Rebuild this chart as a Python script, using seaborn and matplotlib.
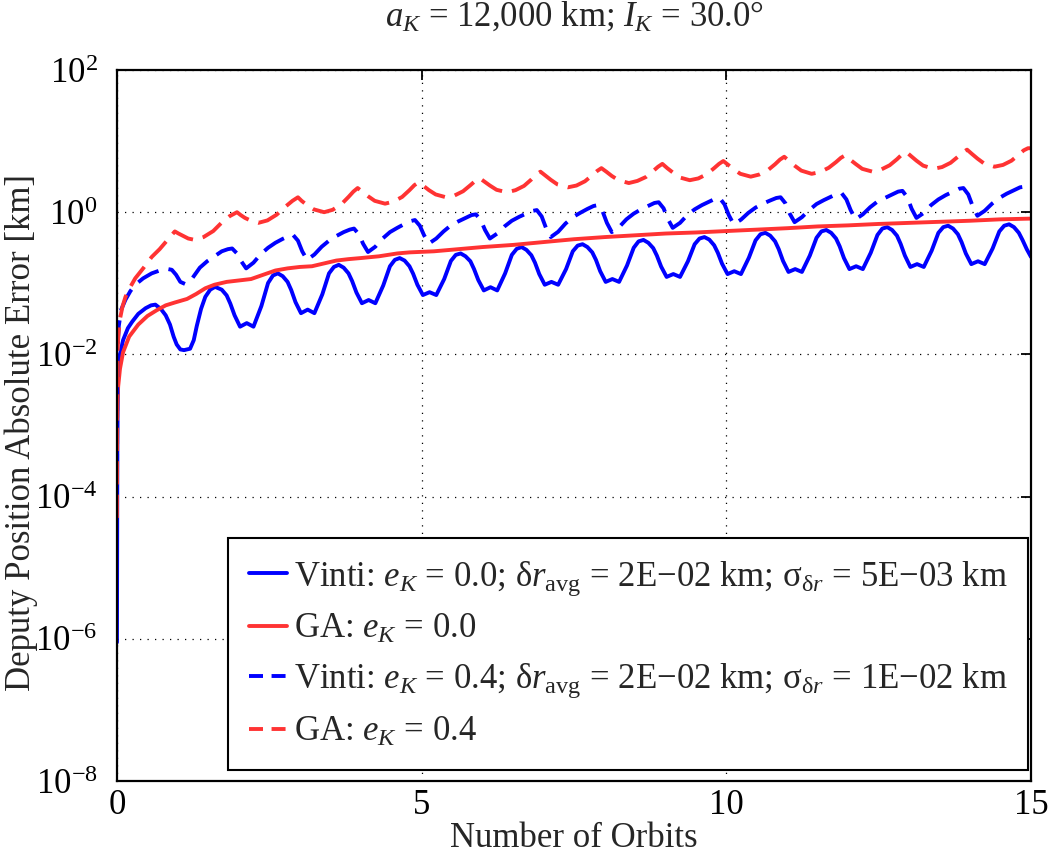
import numpy as np
import pandas as pd
import seaborn as sns
import matplotlib
matplotlib.use("Agg")
from matplotlib import pyplot as plt
from matplotlib.ticker import LogFormatterMathtext, NullLocator

# values, y given as log10 of the error in km

# Vinti, e_K = 0.0
vinti0_orbits = [0, 0.002, 0.004, 0.007, 0.012, 0.02, 0.05, 0.1, 0.18, 0.25, 0.35, 0.47, 0.56, 0.63,
                 0.72, 0.80, 0.87, 0.93, 0.98, 1.04, 1.1, 1.2, 1.26, 1.31, 1.38, 1.45, 1.53, 1.61,
                 1.72, 1.80, 1.86, 1.93,
                 2.02, 2.13, 2.24, 2.37, 2.48, 2.56, 2.64, 2.72, 2.80, 2.86, 2.93,
                 3.02, 3.13, 3.24, 3.37, 3.48, 3.56, 3.64, 3.72, 3.80, 3.86, 3.93,
                 4.02, 4.13, 4.24, 4.37, 4.48, 4.56, 4.64, 4.72, 4.80, 4.86, 4.93,
                 5.02, 5.13, 5.24, 5.37, 5.48, 5.56, 5.64, 5.72, 5.80, 5.86, 5.93,
                 6.02, 6.13, 6.24, 6.37, 6.48, 6.56, 6.64, 6.72, 6.80, 6.86, 6.93,
                 7.02, 7.13, 7.24, 7.37, 7.48, 7.56, 7.64, 7.72, 7.80, 7.86, 7.93,
                 8.02, 8.13, 8.24, 8.37, 8.48, 8.56, 8.64, 8.72, 8.80, 8.86, 8.93,
                 9.02, 9.13, 9.24, 9.37, 9.48, 9.56, 9.64, 9.72, 9.80, 9.86, 9.93,
                 10.02, 10.13, 10.24, 10.37, 10.48, 10.56, 10.64, 10.72, 10.80, 10.86, 10.93,
                 11.02, 11.13, 11.24, 11.37, 11.48, 11.56, 11.64, 11.72, 11.80, 11.86, 11.93,
                 12.02, 12.13, 12.24, 12.37, 12.48, 12.56, 12.64, 12.72, 12.80, 12.86, 12.93,
                 13.02, 13.13, 13.24, 13.37, 13.48, 13.56, 13.64, 13.72, 13.80, 13.86, 13.93,
                 14.02, 14.13, 14.24, 14.37, 14.48, 14.56, 14.64, 14.72, 14.80, 14.86, 14.93, 15.0]
vinti0_log_err = [-6.05, -5.0, -4.0, -3.2, -2.6, -2.3, -2.0, -1.80, -1.63, -1.54, -1.43, -1.35, -1.31, -1.30,
                  -1.36, -1.45, -1.58, -1.75, -1.86, -1.93, -1.94, -1.92, -1.80, -1.60, -1.36, -1.19, -1.09, -1.05,
                  -1.09, -1.17, -1.285, -1.45,
                  -1.61, -1.56, -1.61, -1.32, -0.995, -0.89, -0.86, -0.90, -0.98, -1.095, -1.265,
                  -1.42, -1.37, -1.42, -1.155, -0.86, -0.77, -0.74, -0.78, -0.86, -0.97, -1.13,
                  -1.28, -1.235, -1.28, -1.03, -0.76, -0.67, -0.645, -0.68, -0.76, -0.865, -1.02,
                  -1.165, -1.125, -1.165, -0.94, -0.685, -0.60, -0.58, -0.62, -0.69, -0.80, -0.955,
                  -1.10, -1.055, -1.10, -0.86, -0.60, -0.515, -0.49, -0.53, -0.605, -0.71, -0.87,
                  -1.02, -0.98, -1.02, -0.80, -0.55, -0.47, -0.45, -0.49, -0.565, -0.67, -0.83,
                  -0.98, -0.94, -0.98, -0.75, -0.50, -0.41, -0.39, -0.43, -0.505, -0.61, -0.765,
                  -0.91, -0.87, -0.91, -0.69, -0.45, -0.37, -0.35, -0.385, -0.465, -0.57, -0.725,
                  -0.87, -0.83, -0.87, -0.64, -0.395, -0.31, -0.29, -0.33, -0.41, -0.52, -0.685,
                  -0.84, -0.80, -0.84, -0.61, -0.36, -0.27, -0.25, -0.29, -0.37, -0.48, -0.645,
                  -0.80, -0.76, -0.80, -0.57, -0.32, -0.23, -0.21, -0.25, -0.33, -0.445, -0.61,
                  -0.77, -0.73, -0.77, -0.54, -0.29, -0.21, -0.19, -0.23, -0.31, -0.42, -0.58,
                  -0.73, -0.69, -0.73, -0.51, -0.27, -0.19, -0.17, -0.21, -0.29, -0.39, -0.52, -0.63]

# GA, e_K = 0.0
ga0_orbits = [0, 0.005, 0.02, 0.05, 0.1, 0.2, 0.35, 0.5, 0.65, 0.8, 0.95, 1.15, 1.3, 1.45, 1.6, 1.8,
              2.0, 2.2, 2.4, 2.6, 2.8, 3.0, 3.2, 3.4, 3.6, 3.8, 4.0, 4.3, 4.6, 4.8, 5.2, 5.6, 6.0,
              6.5, 7.0, 7.5, 8.0, 8.5, 9.0, 9.5, 10.0, 10.5, 11.0, 11.5, 12.0, 12.5, 13.0, 13.5,
              14.0, 14.5, 15.0]
ga0_log_err = [-3.2, -2.7, -2.45, -2.2, -1.97, -1.75, -1.58, -1.46, -1.38, -1.31, -1.27, -1.22, -1.15,
               -1.07, -1.02, -0.98, -0.96, -0.94, -0.88, -0.82, -0.79, -0.77, -0.76, -0.72, -0.68,
               -0.66, -0.645, -0.62, -0.58, -0.565, -0.55, -0.52, -0.49, -0.46, -0.42, -0.38, -0.35,
               -0.325, -0.30, -0.285, -0.265, -0.245, -0.225, -0.20, -0.185, -0.165, -0.15, -0.135,
               -0.12, -0.10, -0.09]

# Vinti, e_K = 0.4
vinti4_orbits = [0, 0.002, 0.005, 0.01, 0.03, 0.07, 0.14, 0.22, 0.30, 0.43, 0.57, 0.70, 0.84, 0.90, 0.97, 1.04,
                 1.12, 1.24, 1.36, 1.48, 1.60, 1.72, 1.82, 1.89, 1.97, 2.04,
                 2.12, 2.24, 2.36, 2.48, 2.60, 2.72, 2.82, 2.89, 2.97, 3.04,
                 3.12, 3.24, 3.36, 3.48, 3.60, 3.72, 3.82, 3.89, 3.97, 4.04,
                 4.12, 4.24, 4.36, 4.48, 4.60, 4.72, 4.82, 4.89, 4.97, 5.04,
                 5.12, 5.24, 5.36, 5.48, 5.60, 5.72, 5.82, 5.89, 5.97, 6.04,
                 6.12, 6.24, 6.36, 6.48, 6.60, 6.72, 6.82, 6.89, 6.97, 7.04,
                 7.12, 7.24, 7.36, 7.48, 7.60, 7.72, 7.82, 7.89, 7.97, 8.04,
                 8.12, 8.24, 8.36, 8.48, 8.60, 8.72, 8.82, 8.89, 8.97, 9.04,
                 9.12, 9.24, 9.36, 9.48, 9.60, 9.72, 9.82, 9.89, 9.97, 10.04,
                 10.12, 10.24, 10.36, 10.48, 10.60, 10.72, 10.82, 10.89, 10.97, 11.04,
                 11.12, 11.24, 11.36, 11.48, 11.60, 11.72, 11.82, 11.89, 11.97, 12.04,
                 12.12, 12.24, 12.36, 12.48, 12.60, 12.72, 12.82, 12.89, 12.97, 13.04,
                 13.12, 13.24, 13.36, 13.48, 13.60, 13.72, 13.82, 13.89, 13.97, 14.04,
                 14.12, 14.24, 14.36, 14.48, 14.60, 14.72, 14.82, 14.90, 15.0]
vinti4_log_err = [-4.2, -3.2, -2.5, -1.95, -1.6, -1.37, -1.23, -1.11, -1.02, -0.93, -0.86, -0.82, -0.80, -0.81, -0.88, -0.98,
                  -1.01, -0.925, -0.78, -0.69, -0.62, -0.55, -0.52, -0.51, -0.58, -0.69,
                  -0.79, -0.71, -0.59, -0.50, -0.43, -0.375, -0.335, -0.32, -0.40, -0.55,
                  -0.67, -0.595, -0.485, -0.40, -0.335, -0.28, -0.245, -0.23, -0.31, -0.445,
                  -0.56, -0.485, -0.37, -0.28, -0.22, -0.165, -0.125, -0.11, -0.19, -0.325,
                  -0.44, -0.37, -0.27, -0.185, -0.13, -0.08, -0.04, -0.03, -0.11, -0.25,
                  -0.37, -0.30, -0.20, -0.12, -0.065, -0.018, 0.018, 0.03, -0.06, -0.22,
                  -0.35, -0.275, -0.16, -0.07, -0.01, 0.046, 0.087, 0.10, 0.01, -0.15,
                  -0.28, -0.21, -0.10, -0.02, 0.04, 0.09, 0.13, 0.14, 0.055, -0.095,
                  -0.22, -0.15, -0.04, 0.04, 0.10, 0.15, 0.19, 0.20, 0.11, -0.04,
                  -0.17, -0.105, -0.01, 0.065, 0.12, 0.165, 0.20, 0.21, 0.125, -0.02,
                  -0.14, -0.07, 0.03, 0.115, 0.17, 0.22, 0.26, 0.27, 0.18, 0.03,
                  -0.10, -0.03, 0.07, 0.15, 0.20, 0.25, 0.29, 0.30, 0.21, 0.05,
                  -0.08, -0.01, 0.10, 0.18, 0.24, 0.29, 0.33, 0.34, 0.25, 0.09,
                  -0.05, 0.02, 0.12, 0.20, 0.26, 0.31, 0.35, 0.36, 0.355]

# GA, e_K = 0.4
ga4_orbits = [0, 0.002, 0.005, 0.01, 0.02, 0.05, 0.09, 0.14, 0.22, 0.30, 0.43, 0.57, 0.70, 0.82, 0.95,
              1.01, 1.08, 1.17, 1.28, 1.42, 1.58, 1.72, 1.85, 1.97,
              2.03, 2.10, 2.20, 2.32, 2.47, 2.62, 2.76, 2.88, 2.97,
              3.03, 3.12, 3.23, 3.40, 3.54, 3.68, 3.80, 3.88, 3.95,
              4.03, 4.12, 4.23, 4.40, 4.54, 4.68, 4.80, 4.88, 4.95,
              5.03, 5.12, 5.23, 5.40, 5.54, 5.68, 5.80, 5.88, 5.95,
              6.03, 6.12, 6.23, 6.40, 6.54, 6.68, 6.80, 6.88, 6.95,
              7.03, 7.12, 7.23, 7.40, 7.54, 7.68, 7.80, 7.88, 7.95,
              8.03, 8.12, 8.23, 8.40, 8.54, 8.68, 8.80, 8.88, 8.95,
              9.03, 9.12, 9.23, 9.40, 9.54, 9.68, 9.80, 9.88, 9.95,
              10.03, 10.12, 10.23, 10.40, 10.54, 10.68, 10.80, 10.88, 10.95,
              11.03, 11.12, 11.23, 11.40, 11.54, 11.68, 11.80, 11.88, 11.95,
              12.03, 12.12, 12.23, 12.40, 12.54, 12.68, 12.80, 12.88, 12.95,
              13.03, 13.12, 13.23, 13.40, 13.54, 13.68, 13.80, 13.88, 13.95,
              14.03, 14.12, 14.23, 14.40, 14.54, 14.68, 14.80, 14.88, 14.95, 15.0]
ga4_log_err = [-4.3, -3.3, -2.5, -2.0, -1.75, -1.5, -1.33, -1.19, -1.05, -0.93, -0.79, -0.63, -0.52, -0.40, -0.27,
               -0.30, -0.33, -0.37, -0.39, -0.35, -0.265, -0.145, -0.055, 0.0,
               -0.04, -0.08, -0.12, -0.15, -0.115, -0.035, 0.075, 0.16, 0.21,
               0.16, 0.10, 0.04, 0.0, 0.034, 0.11, 0.215, 0.29, 0.34,
               0.285, 0.225, 0.16, 0.12, 0.15, 0.215, 0.31, 0.38, 0.42,
               0.37, 0.31, 0.25, 0.21, 0.235, 0.295, 0.38, 0.44, 0.48,
               0.43, 0.375, 0.315, 0.28, 0.31, 0.37, 0.46, 0.53, 0.57,
               0.515, 0.455, 0.39, 0.35, 0.375, 0.435, 0.52, 0.58, 0.62,
               0.57, 0.51, 0.45, 0.41, 0.44, 0.495, 0.58, 0.64, 0.68,
               0.62, 0.56, 0.49, 0.45, 0.475, 0.535, 0.62, 0.68, 0.72,
               0.665, 0.605, 0.54, 0.50, 0.53, 0.59, 0.675, 0.74, 0.78,
               0.72, 0.655, 0.585, 0.54, 0.565, 0.625, 0.705, 0.765, 0.80,
               0.74, 0.68, 0.61, 0.57, 0.60, 0.66, 0.745, 0.81, 0.85,
               0.79, 0.725, 0.655, 0.61, 0.635, 0.695, 0.78, 0.84, 0.88,
               0.82, 0.755, 0.685, 0.64, 0.665, 0.725, 0.81, 0.87, 0.90, 0.90]

labels = [
    r"Vinti: $e_K$ = 0.0; $\mathrm{\delta}r_{\mathrm{avg}}$ = 2E−02 km; $\mathrm{\sigma}_{\mathrm{\delta}r}$ = 5E−03 km",
    r"GA: $e_K$ = 0.0",
    r"Vinti: $e_K$ = 0.4; $\mathrm{\delta}r_{\mathrm{avg}}$ = 2E−02 km; $\mathrm{\sigma}_{\mathrm{\delta}r}$ = 1E−02 km",
    r"GA: $e_K$ = 0.4",
]

BLUE = "#0000ff"
RED = "#ff3333"
DASH = (0, (6.0, 2.6))

sns.set_theme(style="white")
plt.rcParams["font.family"] = ["Liberation Serif", "DejaVu Serif"]
plt.rcParams["mathtext.fontset"] = "custom"
plt.rcParams["mathtext.rm"] = "Liberation Serif"
plt.rcParams["mathtext.it"] = "Liberation Serif:italic"
plt.rcParams["mathtext.bf"] = "Liberation Serif:bold"
plt.rcParams["axes.unicode_minus"] = True

fig = plt.figure(figsize=(10.48, 8.59), dpi=100)
ax = fig.add_axes([0.1116, 0.0908, 0.8722, 0.8277])

curves = [
    (vinti0_orbits, vinti0_log_err, BLUE, "-"),
    (ga0_orbits, ga0_log_err, RED, "-"),
    (vinti4_orbits, vinti4_log_err, BLUE, DASH),
    (ga4_orbits, ga4_log_err, RED, DASH),
]
for (orb, lerr, col, ls), lab in zip(curves, labels):
    d = pd.DataFrame({"orbits": orb, "err": 10.0 ** np.array(lerr)})
    sns.lineplot(data=d, x="orbits", y="err", ax=ax, color=col, linestyle=ls,
                 linewidth=2.8, label=lab, estimator=None, sort=False, legend=False)

ax.set_yscale("log")
ax.set_xlim(0, 15)
ax.set_ylim(1e-8, 1e2)
ax.set_xticks([0, 5, 10, 15])
ax.set_yticks([1e-8, 1e-6, 1e-4, 1e-2, 1e0, 1e2])
ax.yaxis.set_major_formatter(LogFormatterMathtext())
ax.yaxis.set_minor_locator(NullLocator())
ax.tick_params(direction="in", length=7, width=1.3, top=True, right=True,
               labelsize=25, colors="black")
ax.tick_params(axis="y", pad=14)
ax.tick_params(axis="x", pad=6)
ax.grid(True, which="major", color="black", linestyle=(0, (1, 5)), linewidth=0.9)
for s in ax.spines.values():
    s.set_linewidth(1.6)
    s.set_color("black")

ax.set_xlabel("Number of Orbits", fontsize=25, labelpad=0)
ax.set_ylabel("Deputy Position Absolute Error [km]", fontsize=25)
ax.yaxis.set_label_coords(-0.086, 0.49)
ax.set_title(r"$a_K$ = 12,000 km; $I_K$ = 30.0°", fontsize=25, pad=32)

leg = ax.legend(handles=ax.get_lines(), labels=labels, loc="lower right",
                bbox_to_anchor=(0.997, 0.0155), borderaxespad=0, fontsize=25,
                handlelength=1.1, handletextpad=0.2, borderpad=0.6, labelspacing=0.45,
                frameon=True, fancybox=False, framealpha=1, edgecolor="black")
leg.get_frame().set_linewidth(1.5)
for hl in leg.get_lines()[2:]:
    hl.set_dashes((3.6, 2.2))

fig.savefig("out.png", dpi=100)
